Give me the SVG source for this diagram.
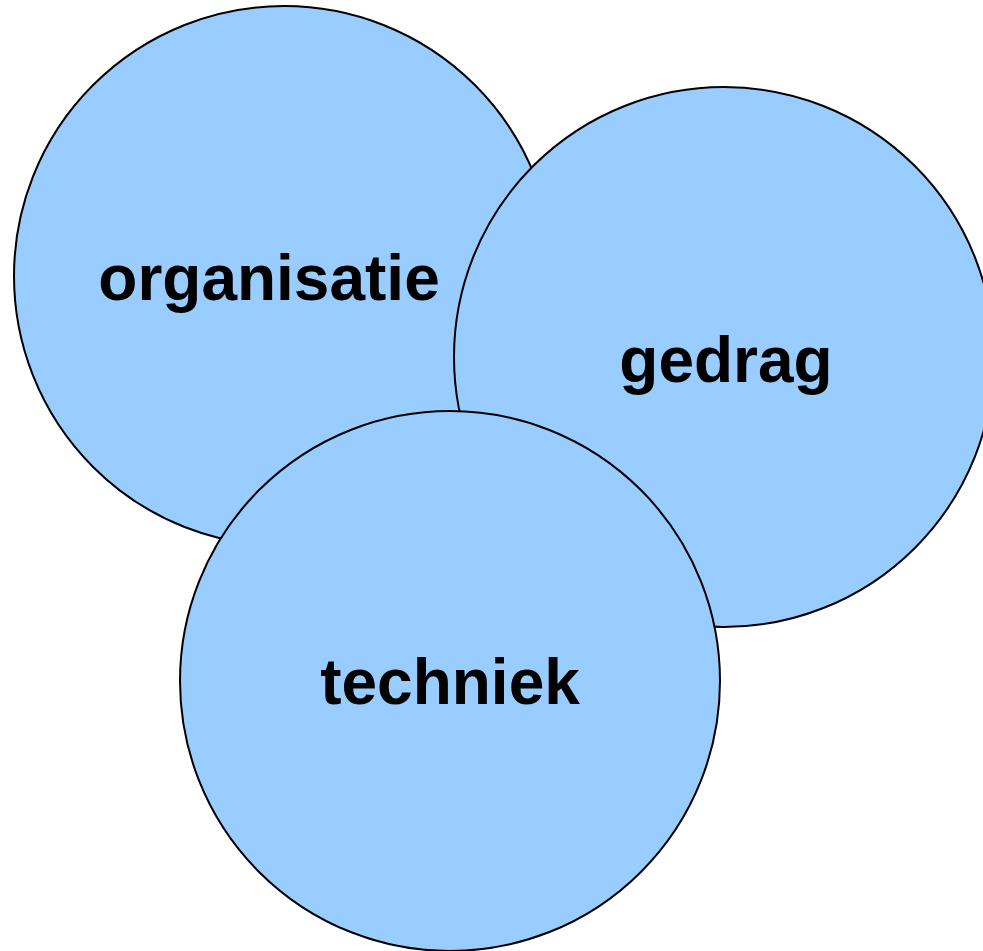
<svg xmlns="http://www.w3.org/2000/svg" width="983" height="951" viewBox="0 0 983 951">
<style>
.c{fill:#99CCFF;stroke:#000;stroke-width:2}
.t{font-family:"Liberation Sans",Arial,sans-serif;font-weight:bold;font-size:64px;fill:#000;text-anchor:middle}
</style>
<rect width="983" height="951" fill="#fff"/>
<g id="organisatie"><circle class="c" cx="284" cy="276" r="270"/><text class="t" x="269" y="300">organisatie</text></g>
<g id="gedrag"><circle class="c" cx="724" cy="357" r="270"/><text class="t" x="726" y="382">gedrag</text></g>
<g id="techniek"><circle class="c" cx="450" cy="681" r="270"/><text class="t" x="450" y="704">techniek</text></g>
<g id="connectors"/>
</svg>
